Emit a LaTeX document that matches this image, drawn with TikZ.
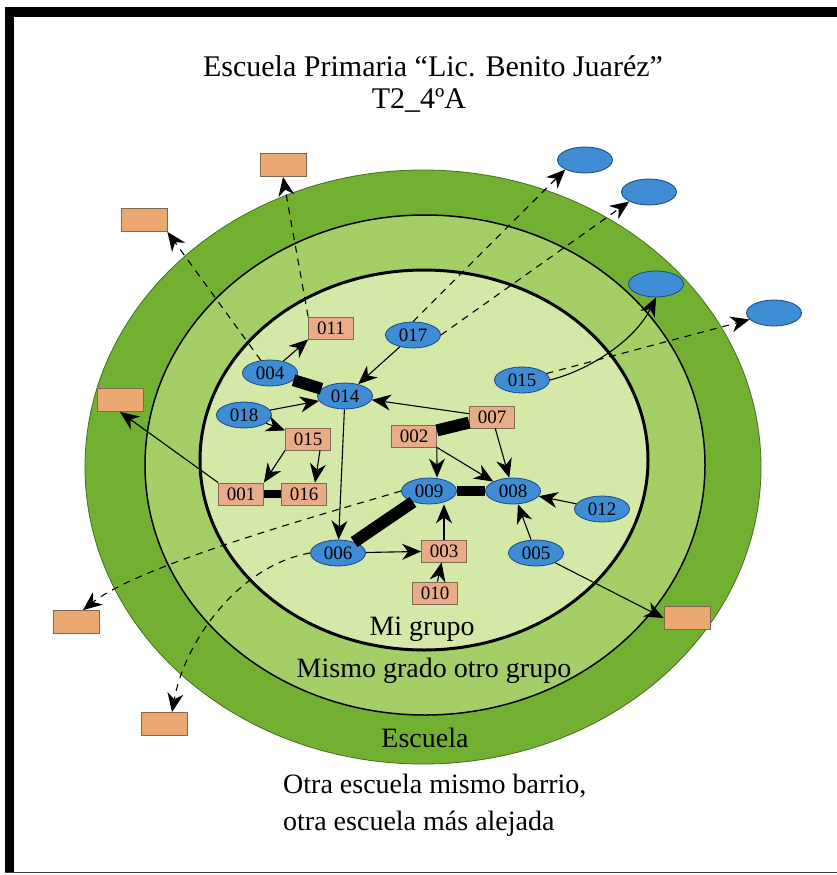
\documentclass[tikz,border=0pt]{standalone}
\usepackage{fontspec}
\setmainfont{Liberation Serif}
\usetikzlibrary{shapes.geometric,arrows.meta}
\definecolor{ringout}{RGB}{114,176,50}
\definecolor{ringmid}{RGB}{164,206,102}
\definecolor{ringin}{RGB}{212,233,168}
\definecolor{ringedge}{RGB}{70,110,30}
\definecolor{stufill}{RGB}{62,140,212}
\definecolor{studraw}{RGB}{30,70,130}
\definecolor{boxfill}{RGB}{233,172,136}
\definecolor{boxout}{RGB}{235,168,112}
\definecolor{boxdraw}{RGB}{125,105,85}
\begin{document}
\begin{tikzpicture}[x=1pt,y=-1pt,
  stu/.style={ellipse,draw=studraw,fill=stufill,line width=0.8pt,minimum width=55pt,minimum height=26pt,inner sep=0pt,font=\fontsize{19}{19}\selectfont},
  box/.style={rectangle,draw=boxdraw,fill=boxfill,line width=0.8pt,minimum width=45pt,minimum height=22pt,inner sep=0pt,font=\fontsize{19}{19}\selectfont},
  obox/.style={box,fill=boxout,minimum width=46pt,minimum height=23pt},
  rel/.style={-{Stealth[length=19pt,width=16pt,inset=6pt]},line width=1.1pt,draw=black},
  far/.style={rel,dash pattern=on 7pt off 6pt},
  tie/.style={line width=12pt,draw=black},
  lab/.style={font=\fontsize{28}{28}\selectfont,inner sep=0pt}]
\useasboundingbox (0,0) rectangle (837,875);
\fill[white] (0,0) rectangle (837,875);
% frame
\fill[black] (5,7) rectangle (837,17);
\fill[black] (5,7) rectangle (14,873);
\draw[black!75,line width=1.2pt] (5,872.5) -- (837,872.5);
% title
\node[lab,font=\fontsize{30}{30}\selectfont,anchor=base] (title) at (433,77) {Escuela Primaria “Lic. Benito Juaréz”};
\node[lab,font=\fontsize{30}{30}\selectfont,anchor=base] (title2) at (419,108) {T2\_4ºA};
% rings
\draw[ringedge,line width=0.8pt,fill=ringout] (423,467) ellipse [x radius=338,y radius=297];
\draw[black,line width=1.5pt,fill=ringmid] (425,465) ellipse [x radius=280,y radius=250];
\draw[black,line width=3pt,fill=ringin] (424,460) ellipse [x radius=224,y radius=190];
% labels
\node[lab,anchor=base] (lmi) at (422,635) {Mi grupo};
\node[lab,anchor=base] (lmismo) at (434,677) {Mismo grado otro grupo};
\node[lab,anchor=base] (lesc) at (425,747) {Escuela};
\node[lab,anchor=base west] (lotra1) at (283,793) {Otra escuela mismo barrio,};
\node[lab,anchor=base west] (lotra2) at (283,830) {otra escuela más alejada};
% inner nodes
\node[box] (n011) at (331,328) {011};
\node[stu] (n017) at (413,335) {017};
\node[stu] (n004) at (270,373) {004};
\node[stu] (n014) at (345,396) {014};
\node[stu] (n018) at (244,415) {018};
\node[box] (n015b) at (308,439) {015};
\node[stu] (n015e) at (522,380) {015};
\node[box] (n007) at (492,417) {007};
\node[box] (n002) at (414,436) {002};
\node[box] (n001) at (241,494) {001};
\node[box] (n016) at (304,494) {016};
\node[stu] (n009) at (429,491) {009};
\node[stu] (n008) at (513,491) {008};
\node[stu] (n012) at (602,509) {012};
\node[stu] (n006) at (338,553) {006};
\node[box] (n003) at (444,551) {003};
\node[stu] (n005) at (536,553) {005};
\node[box] (n010) at (435,593) {010};
% outer nodes
\node[obox] (oA) at (283,165) {};
\node[obox] (oB) at (144,220) {};
\node[obox] (oL) at (120,400) {};
\node[obox] (oG) at (76,622) {};
\node[obox] (oH) at (164,724) {};
\node[obox] (oI) at (687,618) {};
\node[stu] (oC) at (585,160) {};
\node[stu] (oD) at (649,192) {};
\node[stu] (oE) at (656,284) {};
\node[stu] (oF) at (774,313) {};
% thick ties
\draw[tie] (n004) -- (n014);
\draw[tie,line width=8pt] (n001) -- (n016);
\draw[tie] (n002) -- (n007);
\draw[tie,line width=10pt] (n009) -- (n008);
\draw[tie] (n009) -- (n006);
% inner arrows
\draw[rel] (n004) -- (n011.south west);
\draw[rel] (n017) -- (n014);
\draw[rel] (n018) -- (n014);
\draw[rel] (n018) -- (n015b);
\draw[rel] (n007) -- (n014);
\draw[rel] (n015b.south west) -- (n001.north east);
\draw[rel] ([xshift=12pt]n015b.south) -- ([xshift=11pt]n016.north);
\draw[rel] (n014) -- (n006);
\draw[rel] (n002.south east) -- ([xshift=8pt]n009.north);
\draw[rel] (n002.south east) -- (n008.north west);
\draw[rel] (n007) -- (n008);
\draw[rel] (n006) -- (n003);
\draw[rel] (n003.north) -- (n003.north |- n009.south);
\draw[rel] (n010) -- (n003);
\draw[rel] (n012) -- (n008);
\draw[rel] (n005) -- (n008);
% outward arrows
\draw[far] (n011.north west) -- (oA.south);
\draw[far] (n004) -- (oB.south east);
\draw[far] (n017.north) -- (oC.south west);
\draw[far] (n017.east) -- (oD.south west);
\draw[rel] (n015e.east) .. controls (590,370) and (635,340) .. (oE.south);
\draw[far] (n015e) -- (oF);
\draw[far] (n009.west) .. controls (320,515) and (140,565) .. ([xshift=7pt]oG.north);
\draw[far] (n006.west) .. controls (240,565) and (185,640) .. ([xshift=8pt]oH.north);
\draw[rel] (n005) -- (oI.west);
\draw[rel] (n001.north west) -- (oL.south);
\end{tikzpicture}
\end{document}
